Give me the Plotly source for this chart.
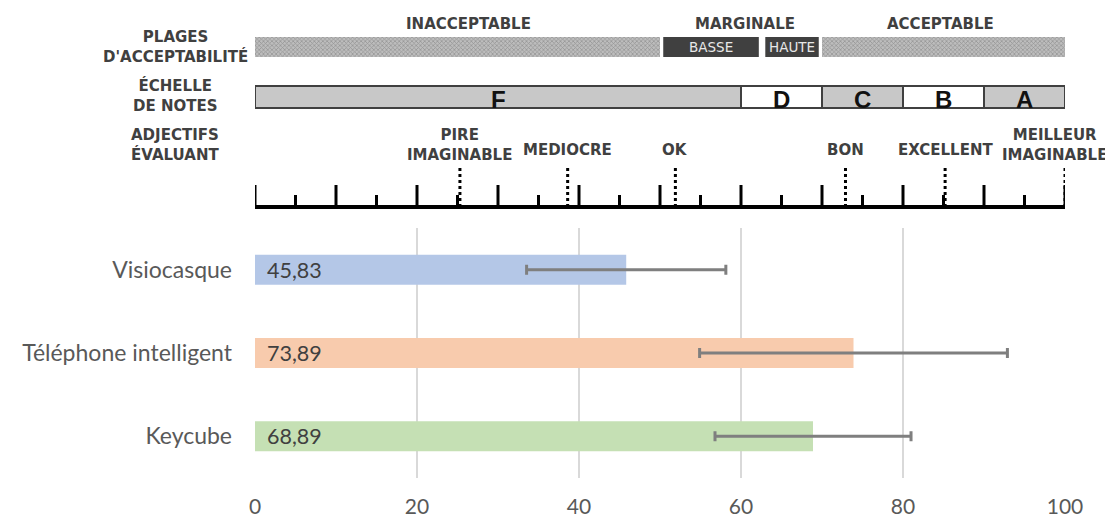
import plotly.graph_objects as go

# --- données du graphique ---
categories = ["Visiocasque", "Téléphone intelligent", "Keycube"]
moyennes = [45.83, 73.89, 68.89]
ecarts = [12.3, 19.0, 12.1]
couleurs = ["#b4c7e7", "#f8cbad", "#c5e0b4"]

# plages d'acceptabilité
plages_hachurees = [(0, 50), (70, 100)]
plages_labels = ["INACCEPTABLE", "MARGINALE", "ACCEPTABLE"]
plages_labels_x = [26.3, 60.5, 84.6]
marginale_bornes = [50, 62.6, 70]
marginale_noms = ["BASSE", "HAUTE"]

# échelle de notes
notes = ["F", "D", "C", "B", "A"]
notes_bornes = [0, 60, 70, 80, 90, 100]
notes_fond = ["#c8c8c8", "#ffffff", "#c8c8c8", "#ffffff", "#c8c8c8"]

# adjectifs
adjectifs = ["PIRE<br>IMAGINABLE", "MEDIOCRE", "OK", "BON", "EXCELLENT", "MEILLEUR<br>IMAGINABLE"]
adjectifs_scores = [25.3, 38.6, 51.9, 72.9, 85.2, 100]

x_ticks = [0, 20, 40, 60, 80, 100]

# --- mise en page ---
# la page html ajoute une marge de 8 px autour de la figure
OFF = 8
W, H = 1113 - OFF, 519 - OFF
PLOT_L, PLOT_R, PLOT_T, PLOT_B = 255, 1065, 10, 478   # en pixels de la page
M_L, M_R = PLOT_L - OFF, W - (PLOT_R - OFF)
M_T, M_B = PLOT_T - OFF, H - (PLOT_B - OFF)


def py(p):
    # position verticale (pixels de la page) -> coordonnées papier
    return (PLOT_B - p) / (PLOT_B - PLOT_T)


def px_(p):
    return (p - PLOT_L) / (PLOT_R - PLOT_L)


GRIS = "#404040"
TITRE = dict(family="DejaVu Sans", size=15, color=GRIS)

fig = go.Figure()

fig.add_trace(go.Bar(
    y=categories, x=moyennes, orientation="h",
    marker=dict(color=couleurs, line=dict(width=0)),
    width=0.36,
    error_x=dict(type="data", array=ecarts, color="#7f7f7f", thickness=3, width=5),
    hoverinfo="skip",
))

# bande hachurée (plages inacceptable / acceptable)
fig.add_trace(go.Bar(
    y=[0.5] * len(plages_hachurees),
    x=[b - a for a, b in plages_hachurees],
    base=[a for a, b in plages_hachurees],
    orientation="h", width=1,
    marker=dict(color="#b8b8b8", line=dict(width=0),
                pattern=dict(shape="x", fgcolor="#666666", bgcolor="#bdbdbd", size=3, solidity=0.4)),
    xaxis="x2", yaxis="y2", hoverinfo="skip",
))


def note(x, y, texte, font, xref="x", **kw):
    d = dict(x=x, y=y, xref=xref, yref="paper", text=texte, showarrow=False,
             xanchor="center", yanchor="middle", font=font)
    d.update(kw)
    return d


shapes = []
annotations = []

# boîtes marginale basse / haute
for i, nom in enumerate(marginale_noms):
    a, b = marginale_bornes[i], marginale_bornes[i + 1]
    shapes.append(dict(type="rect", xref="x", yref="paper", x0=a + 0.4, x1=b - 0.4,
                       y0=py(57), y1=py(37), fillcolor=GRIS, line=dict(width=0)))
    annotations.append(note((a + b) / 2, py(47), nom,
                            dict(family="DejaVu Sans", size=13.5, color="#e8e8e8")))

for lab, xl in zip(plages_labels, plages_labels_x):
    annotations.append(note(xl, py(24), f"<b>{lab}</b>", TITRE))

# échelle de notes
for i, n in enumerate(notes):
    a, b = notes_bornes[i], notes_bornes[i + 1]
    shapes.append(dict(type="rect", xref="x", yref="paper", x0=a, x1=b, y0=py(108), y1=py(86),
                       fillcolor=notes_fond[i], line=dict(color=GRIS, width=2)))
    annotations.append(note((a + b) / 2, py(100), f"<b>{n}</b>",
                            dict(family="Liberation Sans", size=24, color="#111111")))

# règle
shapes.append(dict(type="line", xref="x", yref="paper", x0=-0.2, x1=100.2, y0=py(207), y1=py(207),
                   line=dict(color="black", width=4)))
for v in range(0, 101, 5):
    top = 185 if v % 10 == 0 else 195
    shapes.append(dict(type="line", xref="x", yref="paper", x0=v, x1=v, y0=py(207), y1=py(top),
                       line=dict(color="black", width=3)))

# adjectifs
for lab, s in zip(adjectifs, adjectifs_scores):
    shapes.append(dict(type="line", xref="x", yref="paper", x0=s, x1=s, y0=py(207), y1=py(165),
                       line=dict(color="black", width=3, dash="dot")))
    xs = -11 if s >= 100 else 0
    bas = 166 if "<br>" in lab else 161
    annotations.append(note(s, py(bas), f"<b>{lab}</b>", TITRE, yanchor="bottom", xshift=xs))

# étiquettes de gauche
for txt, yc in [("PLAGES<br>D'ACCEPTABILITÉ", 47), ("ÉCHELLE<br>DE NOTES", 95), ("ADJECTIFS<br>ÉVALUANT", 145)]:
    annotations.append(note(px_(175), py(yc), f"<b>{txt}</b>", TITRE, xref="paper"))

# valeurs des barres
for c, m in zip(categories, moyennes):
    annotations.append(dict(x=0, y=c, xref="x", yref="y", text=f"{m:.2f}".replace(".", ","),
                            xanchor="left", yanchor="middle", xshift=10, showarrow=False,
                            font=dict(family="Lato", size=21.5, color=GRIS)))

fig.update_layout(
    width=W, height=H,
    margin=dict(l=M_L, r=M_R, t=M_T, b=M_B),
    plot_bgcolor="white", paper_bgcolor="white",
    showlegend=False, barmode="overlay",
    shapes=shapes, annotations=annotations,
    xaxis=dict(range=[0, 100], tickvals=x_ticks, showgrid=True, gridcolor="#d9d9d9", gridwidth=2,
               zeroline=False, showline=False, ticks="", ticklabelstandoff=14,
               tickfont=dict(family="Lato", size=21, color="#595959")),
    yaxis=dict(domain=[0, py(228)], autorange="reversed", showgrid=False, zeroline=False,
               ticks="", ticklabelstandoff=22,
               tickfont=dict(family="Lato", size=23, color="#595959")),
    xaxis2=dict(range=[0, 100], anchor="y2", visible=False, showgrid=False),
    yaxis2=dict(domain=[py(57), py(37)], range=[0, 1], anchor="x2", visible=False, showgrid=False),
)

fig.write_html("out.html")
